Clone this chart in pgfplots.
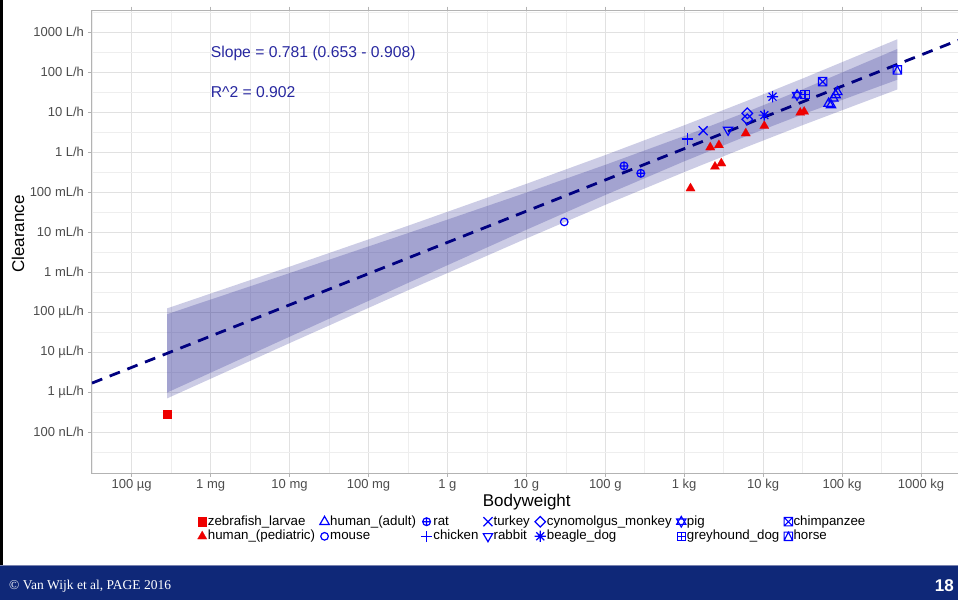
\documentclass[border=0pt]{standalone}
\usepackage{fontspec}
\setmainfont{Liberation Sans}
\newfontfamily\seriffont{Liberation Serif}
\usepackage{pgfplots}
\pgfplotsset{compat=1.18}
\usetikzlibrary{plotmarks}

\definecolor{footerblue}{RGB}{15,40,120}
\definecolor{ggblue}{RGB}{0,0,255}
\definecolor{ggred}{RGB}{238,0,0}
\definecolor{navyline}{RGB}{0,0,128}
\definecolor{annot}{RGB}{40,40,160}
\definecolor{ticktext}{RGB}{77,77,77}
\definecolor{panelborder}{RGB}{179,179,179}
\definecolor{gridmajor}{RGB}{225,225,225}
\definecolor{gridminor}{RGB}{238,238,238}

\pgfdeclareplotmark{ggtridown}{%
  \pgfpathmoveto{\pgfqpoint{0pt}{-\pgfplotmarksize}}%
  \pgfpathlineto{\pgfqpoint{.866\pgfplotmarksize}{.5\pgfplotmarksize}}%
  \pgfpathlineto{\pgfqpoint{-.866\pgfplotmarksize}{.5\pgfplotmarksize}}%
  \pgfpathclose\pgfusepathqstroke}
\pgfdeclareplotmark{ggdiamond}{%
  \pgfpathmoveto{\pgfqpoint{0pt}{\pgfplotmarksize}}%
  \pgfpathlineto{\pgfqpoint{\pgfplotmarksize}{0pt}}%
  \pgfpathlineto{\pgfqpoint{0pt}{-\pgfplotmarksize}}%
  \pgfpathlineto{\pgfqpoint{-\pgfplotmarksize}{0pt}}%
  \pgfpathclose\pgfusepathqstroke}
\pgfdeclareplotmark{ggstar}{%
  \pgfpathmoveto{\pgfqpoint{-\pgfplotmarksize}{0pt}}\pgfpathlineto{\pgfqpoint{\pgfplotmarksize}{0pt}}%
  \pgfpathmoveto{\pgfqpoint{0pt}{-\pgfplotmarksize}}\pgfpathlineto{\pgfqpoint{0pt}{\pgfplotmarksize}}%
  \pgfpathmoveto{\pgfqpoint{-.707\pgfplotmarksize}{-.707\pgfplotmarksize}}\pgfpathlineto{\pgfqpoint{.707\pgfplotmarksize}{.707\pgfplotmarksize}}%
  \pgfpathmoveto{\pgfqpoint{-.707\pgfplotmarksize}{.707\pgfplotmarksize}}\pgfpathlineto{\pgfqpoint{.707\pgfplotmarksize}{-.707\pgfplotmarksize}}%
  \pgfusepathqstroke}
\pgfdeclareplotmark{ggcross}{%
  \pgfpathmoveto{\pgfqpoint{-.707\pgfplotmarksize}{-.707\pgfplotmarksize}}\pgfpathlineto{\pgfqpoint{.707\pgfplotmarksize}{.707\pgfplotmarksize}}%
  \pgfpathmoveto{\pgfqpoint{-.707\pgfplotmarksize}{.707\pgfplotmarksize}}\pgfpathlineto{\pgfqpoint{.707\pgfplotmarksize}{-.707\pgfplotmarksize}}%
  \pgfusepathqstroke}
\pgfdeclareplotmark{ggplus}{%
  \pgfpathmoveto{\pgfqpoint{-\pgfplotmarksize}{0pt}}\pgfpathlineto{\pgfqpoint{\pgfplotmarksize}{0pt}}%
  \pgfpathmoveto{\pgfqpoint{0pt}{-\pgfplotmarksize}}\pgfpathlineto{\pgfqpoint{0pt}{\pgfplotmarksize}}%
  \pgfusepathqstroke}
\pgfdeclareplotmark{ggdavid}{%
  \pgfpathmoveto{\pgfqpoint{0pt}{\pgfplotmarksize}}%
  \pgfpathlineto{\pgfqpoint{.866\pgfplotmarksize}{-.5\pgfplotmarksize}}%
  \pgfpathlineto{\pgfqpoint{-.866\pgfplotmarksize}{-.5\pgfplotmarksize}}%
  \pgfpathclose
  \pgfpathmoveto{\pgfqpoint{0pt}{-\pgfplotmarksize}}%
  \pgfpathlineto{\pgfqpoint{.866\pgfplotmarksize}{.5\pgfplotmarksize}}%
  \pgfpathlineto{\pgfqpoint{-.866\pgfplotmarksize}{.5\pgfplotmarksize}}%
  \pgfpathclose\pgfusepathqstroke}
\pgfdeclareplotmark{ggsqplus}{%
  \pgfpathrectangle{\pgfqpoint{-\pgfplotmarksize}{-\pgfplotmarksize}}{\pgfqpoint{2\pgfplotmarksize}{2\pgfplotmarksize}}%
  \pgfpathmoveto{\pgfqpoint{-\pgfplotmarksize}{0pt}}\pgfpathlineto{\pgfqpoint{\pgfplotmarksize}{0pt}}%
  \pgfpathmoveto{\pgfqpoint{0pt}{-\pgfplotmarksize}}\pgfpathlineto{\pgfqpoint{0pt}{\pgfplotmarksize}}%
  \pgfusepathqstroke}
\pgfdeclareplotmark{ggsqcross}{%
  \pgfpathrectangle{\pgfqpoint{-\pgfplotmarksize}{-\pgfplotmarksize}}{\pgfqpoint{2\pgfplotmarksize}{2\pgfplotmarksize}}%
  \pgfpathmoveto{\pgfqpoint{-\pgfplotmarksize}{-\pgfplotmarksize}}\pgfpathlineto{\pgfqpoint{\pgfplotmarksize}{\pgfplotmarksize}}%
  \pgfpathmoveto{\pgfqpoint{-\pgfplotmarksize}{\pgfplotmarksize}}\pgfpathlineto{\pgfqpoint{\pgfplotmarksize}{-\pgfplotmarksize}}%
  \pgfusepathqstroke}
\pgfdeclareplotmark{ggsqtri}{%
  \pgfpathrectangle{\pgfqpoint{-\pgfplotmarksize}{-\pgfplotmarksize}}{\pgfqpoint{2\pgfplotmarksize}{2\pgfplotmarksize}}%
  \pgfpathmoveto{\pgfqpoint{-\pgfplotmarksize}{-\pgfplotmarksize}}%
  \pgfpathlineto{\pgfqpoint{0pt}{\pgfplotmarksize}}%
  \pgfpathlineto{\pgfqpoint{\pgfplotmarksize}{-\pgfplotmarksize}}%
  \pgfusepathqstroke}
\pgfdeclareplotmark{ggoplus}{%
  \pgfpathcircle{\pgfpointorigin}{\pgfplotmarksize}%
  \pgfpathmoveto{\pgfqpoint{-\pgfplotmarksize}{0pt}}\pgfpathlineto{\pgfqpoint{\pgfplotmarksize}{0pt}}%
  \pgfpathmoveto{\pgfqpoint{0pt}{-\pgfplotmarksize}}\pgfpathlineto{\pgfqpoint{0pt}{\pgfplotmarksize}}%
  \pgfusepathqstroke}

\begin{document}
\begin{tikzpicture}[x=1pt,y=1pt]
\path[use as bounding box] (0,0) rectangle (958,600);
\fill[white] (0,0) rectangle (958,600);
\fill[footerblue] (0,0) rectangle (958,35);
\draw[line width=1pt, color={rgb,255:red,120;green,130;blue,175}] (0,35) -- (958,35);
\fill[black] (0,35.5) rectangle (3,600);
\node[anchor=west, text=white, inner sep=0pt, font=\seriffont\fontsize{13.5}{13.5}\selectfont] at (9,14) {© Van Wijk et al, PAGE 2016};
\node[anchor=east, text=white, inner sep=0pt, font=\bfseries\fontsize{17}{17}\selectfont] at (954,14) {18};

\begin{axis}[
  at={(92pt,127pt)}, anchor=south west,
  scale only axis, width=866pt, height=463pt,
  xmin=-7.503, xmax=3.469, ymin=-8.0175, ymax=3.5575,
  axis line style={draw=panelborder, line width=1pt},
  tick style={draw=panelborder, line width=0.8pt},
  tick align=outside, major tick length=3.5pt, minor tick length=0pt,
  grid=both,
  major grid style={draw=gridmajor, line width=0.7pt},
  minor grid style={draw=gridminor, line width=0.5pt},
  xtick={-7,-6,-5,-4,-3,-2,-1,0,1,2,3},
  xticklabels={100 µg,1 mg,10 mg,100 mg,1 g,10 g,100 g,1 kg,10 kg,100 kg,1000 kg},
  minor xtick={-7.5,-6.5,-5.5,-4.5,-3.5,-2.5,-1.5,-0.5,0.5,1.5,2.5},
  ytick={-7,-6,-5,-4,-3,-2,-1,0,1,2,3},
  yticklabels={100 nL/h,1 µL/h,10 µL/h,100 µL/h,1 mL/h,10 mL/h,100 mL/h,1 L/h,10 L/h,100 L/h,1000 L/h},
  minor ytick={-7.5,-6.5,-5.5,-4.5,-3.5,-2.5,-1.5,-0.5,0.5,1.5,2.5,3.5},
  ticklabel style={font=\fontsize{13}{13}\selectfont, text=ticktext},
  xticklabel style={text height=9.4pt, text depth=2.8pt, anchor=north, yshift=1pt},
  yticklabel style={xshift=-1pt},
  every axis x label/.style={at={(axis description cs:0.502,-0.062)}, anchor=center, font=\fontsize{17}{17}\selectfont},
  every axis y label/.style={at={(axis description cs:-0.0855,0.516)}, anchor=center, rotate=90, font=\fontsize{17}{17}\selectfont},
  xlabel={Bodyweight}, ylabel={Clearance},
  legend columns=7,
  legend cell align=left,
  legend image code/.code={\draw[mark repeat=2,mark phase=2,#1] plot coordinates {(0pt,0pt) (5pt,0pt) (10pt,0pt)};},
  legend style={at={(axis description cs:0.508,-0.121)}, anchor=center, draw=none, fill=none,
    font=\fontsize{13.3}{13.3}\selectfont, inner sep=0pt, row sep=0pt,
    nodes={inner sep=1pt, text height=9.6pt, text depth=3pt},
    /tikz/every even column/.append style={column sep=3.8pt}},
  clip=true,
]
% bands (outer, then inner)
\addplot[draw=none, fill=navyline, fill opacity=0.2, forget plot] coordinates {
  (-6.55,-3.901) (-5,-2.860) (-3.5,-1.837) (-2,-0.789) (-1,-0.069) (0,0.675) (0.8,1.290) (1.5,1.844) (2.7,2.826)
  (2.7,1.571) (1.5,0.679) (0.8,0.140) (0,-0.495) (-1,-1.313) (-2,-2.155) (-3.5,-3.450) (-5,-4.771) (-6.55,-6.151)
} -- cycle;
\addplot[draw=none, fill=navyline, fill opacity=0.2, forget plot] coordinates {
  (-6.55,-4.046) (-5,-3.020) (-3.5,-2.021) (-2,-1.007) (-1,-0.314) (0,0.406) (0.8,1.015) (1.5,1.574) (2.7,2.583)
  (2.7,1.814) (1.5,0.949) (0.8,0.415) (0,-0.226) (-1,-1.068) (-2,-1.937) (-3.5,-3.266) (-5,-4.610) (-6.55,-6.005)
} -- cycle;
% regression line
\addplot[navyline, line width=2.8pt, dash pattern=on 11pt off 8pt, forget plot] coordinates {(-7.503,-5.770) (3.469,2.799)};

% row 1 of legend
\addplot[only marks, ggred, mark=square*, mark size=4.2pt, mark options={fill=ggred, draw=ggred, line width=0.1pt}] coordinates {(-6.55,-6.54)};
\addlegendentry{zebrafish\_larvae}
\addplot[only marks, ggblue, mark=triangle, mark size=5.4pt, mark options={line width=1.2pt}] coordinates {(1.83,1.22) (1.86,1.18) (1.89,1.35) (1.92,1.43) (1.94,1.51)};
\addlegendentry{human\_(adult)}
\addplot[only marks, ggblue, mark=ggoplus, mark size=3.9pt, mark options={line width=1.2pt}] coordinates {(-0.763,-0.34) (-0.55,-0.525)};
\addlegendentry{rat}
\addplot[only marks, ggblue, mark=ggcross, mark size=6.4pt, mark options={line width=1.3pt}] coordinates {(0.24,0.54)};
\addlegendentry{turkey}
\addplot[only marks, ggblue, mark=ggdiamond, mark size=5.3pt, mark options={line width=1.2pt}] coordinates {(0.80,0.975) (0.80,0.825)};
\addlegendentry{cynomolgus\_monkey}
\addplot[only marks, ggblue, mark=ggdavid, mark size=5.4pt, mark options={line width=1.1pt}] coordinates {(1.43,1.43)};
\addlegendentry{pig}
\addplot[only marks, ggblue, mark=ggsqcross, mark size=4.2pt, mark options={line width=1.1pt}] coordinates {(1.755,1.765)};
\addlegendentry{chimpanzee}
% row 2 of legend
\addplot[only marks, ggred, mark=triangle*, mark size=5.4pt, mark options={fill=ggred, draw=ggred, line width=0.1pt}] coordinates {(0.08,-0.90) (0.39,-0.36) (0.47,-0.275) (0.33,0.125) (0.44,0.18) (0.78,0.475) (1.015,0.66) (1.47,0.99) (1.52,1.015)};
\addlegendentry{human\_(pediatric)}
\addplot[only marks, ggblue, mark=o, mark size=3.8pt, mark options={line width=1.2pt}] coordinates {(-1.52,-1.74)};
\addlegendentry{mouse}
\addplot[only marks, ggblue, mark=ggplus, mark size=5.8pt, mark options={line width=1.3pt}] coordinates {(0.04,0.33)};
\addlegendentry{chicken}
\addplot[only marks, ggblue, mark=ggtridown, mark size=5.4pt, mark options={line width=1.2pt}] coordinates {(0.556,0.56)};
\addlegendentry{rabbit}
\addplot[only marks, ggblue, mark=ggstar, mark size=5.6pt, mark options={line width=1.2pt}] coordinates {(1.12,1.39) (1.015,0.93)};
\addlegendentry{beagle\_dog}
\addplot[only marks, ggblue, mark=ggsqplus, mark size=4.2pt, mark options={line width=1.1pt}] coordinates {(1.53,1.45)};
\addlegendentry{greyhound\_dog}
\addplot[only marks, ggblue, mark=ggsqtri, mark size=4.2pt, mark options={line width=1.1pt}] coordinates {(2.70,2.06)};
\addlegendentry{horse}

\node[anchor=west, inner sep=0pt, text=annot, font=\fontsize{15.7}{16}\selectfont] at (axis cs:-6,2.475) {Slope = 0.781 (0.653 - 0.908)};
\node[anchor=west, inner sep=0pt, text=annot, font=\fontsize{15.7}{16}\selectfont] at (axis cs:-6,1.515) {R\textasciicircum{}2 = 0.902};
\end{axis}
\end{tikzpicture}
\end{document}
